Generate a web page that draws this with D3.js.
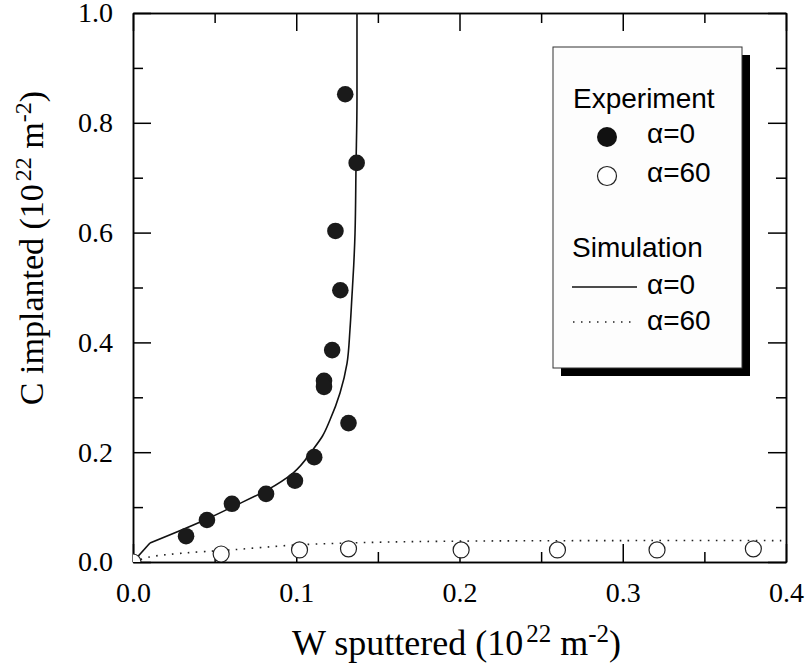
<!DOCTYPE html>
<html>
<head>
<meta charset="utf-8">
<script src="https://cdn.jsdelivr.net/npm/d3@7"></script>
<style>
  body { margin: 0; background: #fff; }
  .axis path, .axis line { stroke: #000; stroke-width: 1.5; }
  .axis text { font-family: "Liberation Serif", "Times New Roman", serif; font-size: 28px; fill: #000; }
</style>
</head>
<body>
<div id="chart"></div>
<script>
// experiment, alpha = 0 (filled dots)
var exp0X = [0.0325, 0.0453, 0.0606, 0.0815, 0.0992, 0.111, 0.132, 0.117, 0.117, 0.122, 0.127, 0.124, 0.137, 0.130];
var exp0Y = [0.047, 0.0765, 0.106, 0.124, 0.148, 0.191, 0.253, 0.330, 0.319, 0.386, 0.495, 0.603, 0.727, 0.852];
// experiment, alpha = 60 (open dots)
var exp60X = [0.0, 0.054, 0.102, 0.132, 0.201, 0.260, 0.321, 0.380];
var exp60Y = [0.0, 0.0146, 0.022, 0.024, 0.022, 0.022, 0.022, 0.024];
// simulation curves
var sim0X = [0, 0.0104, 0.0453, 0.0606, 0.0821, 0.098, 0.110, 0.1160, 0.1207, 0.1268, 0.1311, 0.1329, 0.1341, 0.1352, 0.136, 0.1366, 0.1372, 0.1372];
var sim0Y = [0, 0.0346, 0.0783, 0.100, 0.131, 0.162, 0.204, 0.229, 0.259, 0.308, 0.362, 0.423, 0.483, 0.540, 0.599, 0.719, 0.8415, 1.0];
var sim60X = [0, 0.01, 0.03, 0.06, 0.1, 0.15, 0.2, 0.3, 0.4];
var sim60Y = [0, 0.009, 0.016, 0.022, 0.031, 0.036, 0.038, 0.039, 0.039];

var xMajor = [0, 0.1, 0.2, 0.3, 0.4];
var xMinor = [0.05, 0.15, 0.25, 0.35];
var yMajor = [0, 0.2, 0.4, 0.6, 0.8, 1.0];
var yMinor = [0.1, 0.3, 0.5, 0.7, 0.9];

function zip(xs, ys) {
    return xs.map(function (d, i) { return [d, ys[i]]; });
}

var W = 806, H = 667;
// frame edges in pixels ("top" is reserved on window, so use m-prefix)
var mLeft = 133, mRight = 786, mTop = 13, mBottom = 562;

var svg = d3.select("#chart").append("svg")
    .attr("width", W)
    .attr("height", H);

var x = d3.scaleLinear().domain([0, 0.4]).range([mLeft, mRight]);
var y = d3.scaleLinear().domain([0, 1]).range([mBottom, mTop]);

// clip data to the frame
svg.append("clipPath").attr("id", "clip")
    .append("rect")
    .attr("x", mLeft).attr("y", mTop)
    .attr("width", mRight - mLeft).attr("height", mBottom - mTop);

// axes on all four sides, ticks pointing inwards
var fmt = d3.format(".1f");
svg.append("g").attr("class", "axis")
    .attr("transform", "translate(0," + mBottom + ")")
    .call(d3.axisBottom(x).tickValues(xMajor).tickFormat(fmt).tickSize(-18).tickSizeOuter(0).tickPadding(20));
svg.append("g").attr("class", "axis")
    .attr("transform", "translate(0," + mBottom + ")")
    .call(d3.axisBottom(x).tickValues(xMinor).tickFormat("").tickSize(-10).tickSizeOuter(0));
svg.append("g").attr("class", "axis")
    .attr("transform", "translate(0," + mTop + ")")
    .call(d3.axisTop(x).tickValues(xMajor).tickFormat("").tickSize(-18).tickSizeOuter(0));
svg.append("g").attr("class", "axis")
    .attr("transform", "translate(0," + mTop + ")")
    .call(d3.axisTop(x).tickValues(xMinor).tickFormat("").tickSize(-10).tickSizeOuter(0));

svg.append("g").attr("class", "axis")
    .attr("transform", "translate(" + mLeft + ",0)")
    .call(d3.axisLeft(y).tickValues(yMajor).tickFormat(fmt).tickSize(-18).tickSizeOuter(0).tickPadding(20));
svg.append("g").attr("class", "axis")
    .attr("transform", "translate(" + mLeft + ",0)")
    .call(d3.axisLeft(y).tickValues(yMinor).tickFormat("").tickSize(-10).tickSizeOuter(0));
svg.append("g").attr("class", "axis")
    .attr("transform", "translate(" + mRight + ",0)")
    .call(d3.axisRight(y).tickValues(yMajor).tickFormat("").tickSize(-18).tickSizeOuter(0));
svg.append("g").attr("class", "axis")
    .attr("transform", "translate(" + mRight + ",0)")
    .call(d3.axisRight(y).tickValues(yMinor).tickFormat("").tickSize(-10).tickSizeOuter(0));

var plot = svg.append("g").attr("clip-path", "url(#clip)");

var line = d3.line()
    .x(function (d) { return x(d[0]); })
    .y(function (d) { return y(d[1]); });

// solid curve: straight first segment (kink), smooth after
var sim0 = zip(sim0X, sim0Y);
plot.append("path")
    .datum(sim0.slice(0, 2))
    .attr("d", line.curve(d3.curveLinear))
    .attr("fill", "none")
    .attr("stroke", "#111")
    .attr("stroke-width", 1.6);
plot.append("path")
    .datum(sim0.slice(1))
    .attr("d", line.curve(d3.curveMonotoneY))
    .attr("fill", "none")
    .attr("stroke", "#111")
    .attr("stroke-width", 1.6);

plot.append("path")
    .datum(zip(sim60X, sim60Y))
    .attr("d", line.curve(d3.curveCatmullRom.alpha(0.5)))
    .attr("fill", "none")
    .attr("stroke", "#222")
    .attr("stroke-width", 1.6)
    .attr("stroke-dasharray", "1.6,6.4");

plot.selectAll(".open")
    .data(zip(exp60X, exp60Y))
    .enter().append("circle")
    .attr("class", "open")
    .attr("cx", function (d) { return x(d[0]); })
    .attr("cy", function (d) { return y(d[1]); })
    .attr("r", 8)
    .attr("fill", "#fff")
    .attr("stroke", "#222")
    .attr("stroke-width", 1.2);

plot.selectAll(".filled")
    .data(zip(exp0X, exp0Y))
    .enter().append("circle")
    .attr("class", "filled")
    .attr("cx", function (d) { return x(d[0]); })
    .attr("cy", function (d) { return y(d[1]); })
    .attr("r", 8.3)
    .attr("fill", "#1a1a1a");

// axis titles with superscripts
var serif = "'Liberation Serif', 'Times New Roman', serif";
function title(t, parts) {
    parts.forEach(function (p) {
        t.append("tspan")
            .attr("dx", p[3] || 0)
            .attr("dy", p[1])
            .style("font-size", p[2] + "px")
            .text(p[0]);
    });
}
var xt = svg.append("text")
    .attr("x", (mLeft + mRight) / 2 - 3)
    .attr("y", 655)
    .attr("text-anchor", "middle")
    .style("font-family", serif)
    .style("font-size", "36px");
title(xt, [["W sputtered (10", 0, 36], ["22", -13, 25, 3], [" m", 13, 36], ["-2", -13, 25], [")", 13, 36]]);

var yt = svg.append("text")
    .attr("transform", "translate(43," + 248 + ") rotate(-90)")
    .attr("text-anchor", "middle")
    .style("font-family", serif)
    .style("font-size", "34px");
title(yt, [["C implanted (10", 0, 34], ["22", -12, 24, 3], [" m", 12, 34], ["-2", -12, 24], [")", 12, 34]]);

// legend box with drop shadow
var lg = svg.append("g");
lg.append("rect").attr("x", 561).attr("y", 55).attr("width", 189).attr("height", 321).attr("fill", "#000");
lg.append("rect").attr("x", 553).attr("y", 47).attr("width", 189).attr("height", 321)
    .attr("fill", "#fdfdfd").attr("stroke", "#333").attr("stroke-width", 1);

var sans = "'Liberation Sans', Arial, sans-serif";
function ltext(tx, ty, s) {
    lg.append("text").attr("x", tx).attr("y", ty)
        .style("font-family", sans).style("font-size", "28px").attr("fill", "#000")
        .text(s);
}
ltext(573, 108, "Experiment");
lg.append("circle").attr("cx", 607).attr("cy", 137).attr("r", 10).attr("fill", "#111");
ltext(647, 143, "\u03b1=0");
lg.append("circle").attr("cx", 607).attr("cy", 176).attr("r", 9.5).attr("fill", "#fff").attr("stroke", "#222").attr("stroke-width", 1.2);
ltext(647, 182, "\u03b1=60");
ltext(572, 257, "Simulation");
lg.append("line").attr("x1", 572).attr("x2", 637).attr("y1", 287).attr("y2", 287).attr("stroke", "#111").attr("stroke-width", 1.6);
ltext(647, 294, "\u03b1=0");
lg.append("line").attr("x1", 573).attr("x2", 632).attr("y1", 322).attr("y2", 322).attr("stroke", "#222").attr("stroke-width", 1.5).attr("stroke-dasharray", "1.5,6.5");
ltext(647, 330, "\u03b1=60");
</script>
</body>
</html>
